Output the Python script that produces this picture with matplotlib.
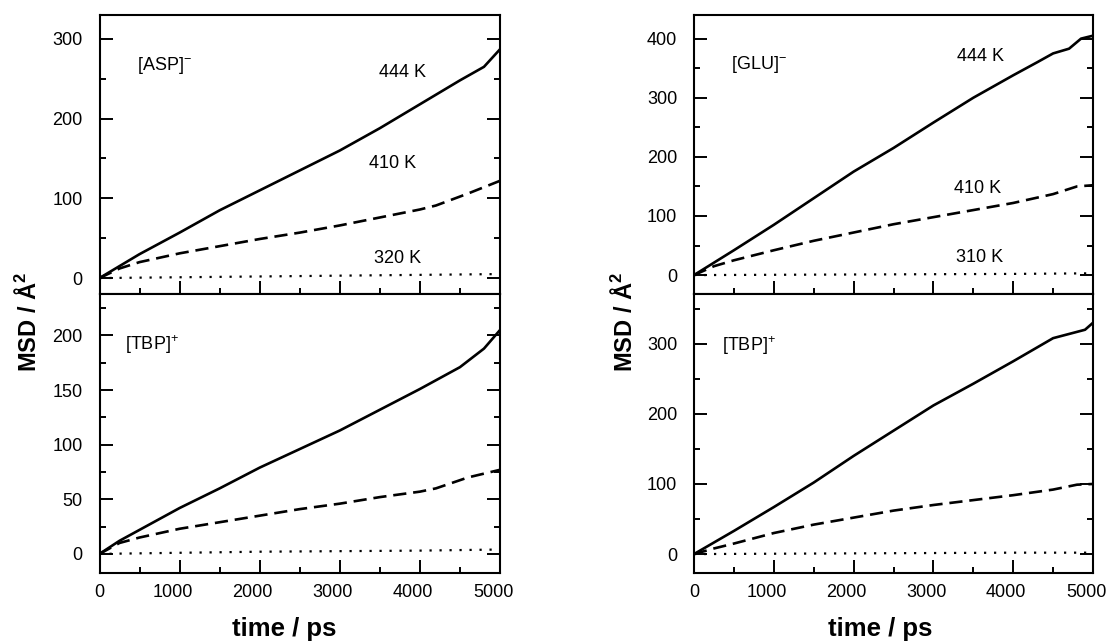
import matplotlib
matplotlib.use("Agg")
import matplotlib.pyplot as plt
from matplotlib.ticker import MultipleLocator
from matplotlib.transforms import ScaledTranslation

plt.rcParams['font.family'] = ['Liberation Sans', 'DejaVu Sans']
plt.rcParams['mathtext.fontset'] = 'custom'
plt.rcParams['mathtext.rm'] = 'Liberation Sans'
plt.rcParams['mathtext.it'] = 'Liberation Sans'
plt.rcParams['mathtext.bf'] = 'Liberation Sans:bold'

# ---------------- data ----------------
# [ASP]- panel (top left)
asp_t_444 = [0, 250, 500, 1000, 1500, 2000, 2500, 3000, 3500, 4000, 4500, 4800, 5000]
asp_v_444 = [0, 15, 30, 57, 85, 110, 135, 160, 188, 218, 248, 265, 287]
asp_t_410 = [0, 250, 500, 1000, 1500, 2000, 2500, 3000, 3500, 4000, 4200, 4600, 5000]
asp_v_410 = [0, 12, 20, 31, 40, 49, 57, 66, 76, 86, 91, 106, 122]
asp_t_320 = [0, 1000, 2000, 3000, 4000, 5000]
asp_v_320 = [0, 1, 2, 3, 4, 5]

# [TBP]+ with ASP (bottom left)
tbpa_t_444 = [0, 250, 500, 1000, 1500, 2000, 2500, 3000, 3500, 4000, 4500, 4800, 5000]
tbpa_v_444 = [0, 12, 22, 42, 60, 79, 96, 113, 132, 151, 171, 188, 205]
tbpa_t_410 = [0, 250, 500, 1000, 1500, 2000, 2500, 3000, 3500, 4000, 4200, 4600, 5000]
tbpa_v_410 = [0, 10, 15, 23, 29, 35, 41, 46, 52, 57, 60, 70, 77]
tbpa_t_320 = [0, 1000, 2000, 3000, 4000, 5000]
tbpa_v_320 = [0, 1, 2, 2.5, 3, 4]

# [GLU]- panel (top right)
glu_t_444 = [0, 500, 1000, 1500, 2000, 2500, 3000, 3500, 4000, 4300, 4500, 4700, 4850, 5000]
glu_v_444 = [0, 42, 85, 130, 175, 215, 258, 300, 338, 360, 375, 383, 400, 405]
glu_t_410 = [0, 250, 500, 1000, 1500, 2000, 2500, 3000, 3500, 4000, 4500, 4800, 5000]
glu_v_410 = [0, 15, 25, 42, 58, 72, 86, 98, 110, 122, 137, 150, 152]
glu_t_310 = [0, 1000, 2000, 3000, 4000, 5000]
glu_v_310 = [0, 0.5, 1, 1.5, 2, 3]

# [TBP]+ with GLU (bottom right)
tbpg_t_444 = [0, 500, 1000, 1500, 2000, 2500, 3000, 3500, 4000, 4500, 4700, 4900, 5000]
tbpg_v_444 = [0, 33, 67, 102, 140, 176, 212, 243, 275, 308, 314, 320, 330]
tbpg_t_410 = [0, 250, 500, 1000, 1500, 2000, 2500, 3000, 3500, 4000, 4500, 4800, 5000]
tbpg_v_410 = [0, 8, 15, 30, 42, 52, 62, 70, 77, 84, 92, 99, 100]
tbpg_t_310 = [0, 1000, 2000, 3000, 4000, 5000]
tbpg_v_310 = [0, 0.5, 1, 1.5, 2, 2]

xticks = [0, 1000, 2000, 3000, 4000, 5000]
xticklabels = ['0', '1000', '2000', '3000', '4000', '5000']

# ---------------- figure ----------------
W, H = 1111, 644
fig = plt.figure(figsize=(W / 100, H / 100), dpi=100)

def px_axes(x0, y0, x1, y1):
    return fig.add_axes([x0 / W, 1 - y1 / H, (x1 - x0) / W, (y1 - y0) / H])

ax_tl = px_axes(99.5, 15, 500, 294)
ax_bl = px_axes(99.5, 294, 500, 573)
ax_tr = px_axes(694, 15, 1093, 294)
ax_br = px_axes(694, 294, 1093, 573)

solid = dict(color='black', lw=1.9, ls='-')
dashed = dict(color='black', lw=1.9, ls=(0, (5, 2.6)))
dotted = dict(color='black', lw=1.6, ls=(0, (1, 3.5)))

def style(ax, ylim, ymaj, ymin, labelx):
    ax.set_xlim(0, 5000)
    ax.set_ylim(*ylim)
    ax.xaxis.set_major_locator(MultipleLocator(1000))
    ax.xaxis.set_minor_locator(MultipleLocator(500))
    ax.yaxis.set_major_locator(MultipleLocator(ymaj))
    ax.yaxis.set_minor_locator(MultipleLocator(ymin))
    ax.tick_params(which='both', direction='in', left=True, right=True,
                   top=False, bottom=True, width=1.4, labelsize=13)
    ax.tick_params(which='major', length=9.5)
    ax.tick_params(which='minor', length=4.3)
    ax.tick_params(axis='y', pad=12)
    ax.tick_params(axis='x', pad=8, labelbottom=labelx)
    for s in ax.spines.values():
        s.set_linewidth(1.5)
    if labelx:
        ax.set_xticks(xticks)
        ax.set_xticklabels(xticklabels)
        shift = ScaledTranslation(-7 / 100, 0, fig.dpi_scale_trans)
        for lab in ax.get_xticklabels():
            if len(lab.get_text()) > 1:
                lab.set_transform(lab.get_transform() + shift)

# top left
ax_tl.plot(asp_t_444, asp_v_444, **solid)
ax_tl.plot(asp_t_410, asp_v_410, **dashed)
ax_tl.plot(asp_t_320, asp_v_320, **dotted)
style(ax_tl, (-20, 330), 100, 50, False)
ax_tl.text(805, 267, r'[ASP]$^{-}$', fontsize=13, ha='center', va='center')
ax_tl.text(3787, 258, '444 K', fontsize=13, ha='center', va='center')
ax_tl.text(3663, 144, '410 K', fontsize=13, ha='center', va='center')
ax_tl.text(3725, 25, '320 K', fontsize=13, ha='center', va='center')

# bottom left
ax_bl.plot(tbpa_t_444, tbpa_v_444, **solid)
ax_bl.plot(tbpa_t_410, tbpa_v_410, **dashed)
ax_bl.plot(tbpa_t_320, tbpa_v_320, **dotted)
style(ax_bl, (-17.5, 238), 50, 25, True)
ax_bl.text(655, 192, r'[TBP]$^{+}$', fontsize=13, ha='center', va='center')

# top right
ax_tr.plot(glu_t_444, glu_v_444, **solid)
ax_tr.plot(glu_t_410, glu_v_410, **dashed)
ax_tr.plot(glu_t_310, glu_v_310, **dotted)
style(ax_tr, (-32, 440), 100, 50, False)
ax_tr.text(815, 356, r'[GLU]$^{-}$', fontsize=13, ha='center', va='center')
ax_tr.text(3584, 369, '444 K', fontsize=13, ha='center', va='center')
ax_tr.text(3559, 147, '410 K', fontsize=13, ha='center', va='center')
ax_tr.text(3584, 30, '310 K', fontsize=13, ha='center', va='center')

# bottom right
ax_br.plot(tbpg_t_444, tbpg_v_444, **solid)
ax_br.plot(tbpg_t_410, tbpg_v_410, **dashed)
ax_br.plot(tbpg_t_310, tbpg_v_310, **dotted)
style(ax_br, (-27, 371), 100, 50, True)
ax_br.text(690, 298, r'[TBP]$^{+}$', fontsize=13, ha='center', va='center')

# axis labels
ylab = r'MSD / Å$^{\mathbf{2}}$'
fig.text(28 / W, 1 - 322 / H, ylab, rotation=90, fontsize=17, fontweight='bold',
         ha='center', va='center')
fig.text(624 / W, 1 - 322 / H, ylab, rotation=90, fontsize=17, fontweight='bold',
         ha='center', va='center')
fig.text(284 / W, 1 - 629 / H, 'time / ps', fontsize=18.5, fontweight='bold',
         ha='center', va='center')
fig.text(880 / W, 1 - 629 / H, 'time / ps', fontsize=18.5, fontweight='bold',
         ha='center', va='center')

fig.savefig('out.png', dpi=100)
